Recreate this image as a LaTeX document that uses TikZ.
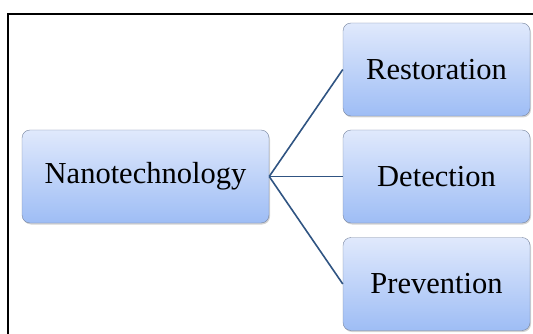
\documentclass[tikz,border=0pt]{standalone}
\usepackage{fontspec}
\setmainfont{Liberation Serif}
\usetikzlibrary{positioning,shadows}
\definecolor{boxtop}{RGB}{224,233,252}
\definecolor{boxbot}{RGB}{158,189,245}
\definecolor{boxline}{RGB}{120,134,160}
\definecolor{linkblue}{RGB}{48,84,130}
\tikzset{
  catbox/.style={draw=boxline, rounded corners=8pt, top color=boxtop, bottom color=boxbot,
                 minimum width=187pt, minimum height=93pt, align=center,
                 font=\fontsize{30.5}{33}\selectfont,
                 drop shadow={opacity=0.35, shadow xshift=1pt, shadow yshift=-1.5pt}},
  hubbox/.style={catbox, minimum width=247pt},
  link/.style={draw=linkblue, line width=1.6pt},
}

\begin{document}
\begin{tikzpicture}[x=1pt, y=-1pt]
  \useasboundingbox (0,0) rectangle (533,334);
  \draw[line width=2.4pt] (8,334) -- (8,14) -- (533,14);
  \node[hubbox] (nano) at (145.5,176.5) {Nanotechnology};
  \node[catbox] (rest) at (436.5,69.5) {Restoration};
  \node[catbox] (detect) at (436.5,176.5) {Detection};
  \node[catbox] (prev) at (436.5,284) {Prevention};
  \draw[link] (nano.east) -- (rest.west);
  \draw[link] (nano.east) -- (detect.west);
  \draw[link] (nano.east) -- (prev.west);
\end{tikzpicture}
\end{document}
